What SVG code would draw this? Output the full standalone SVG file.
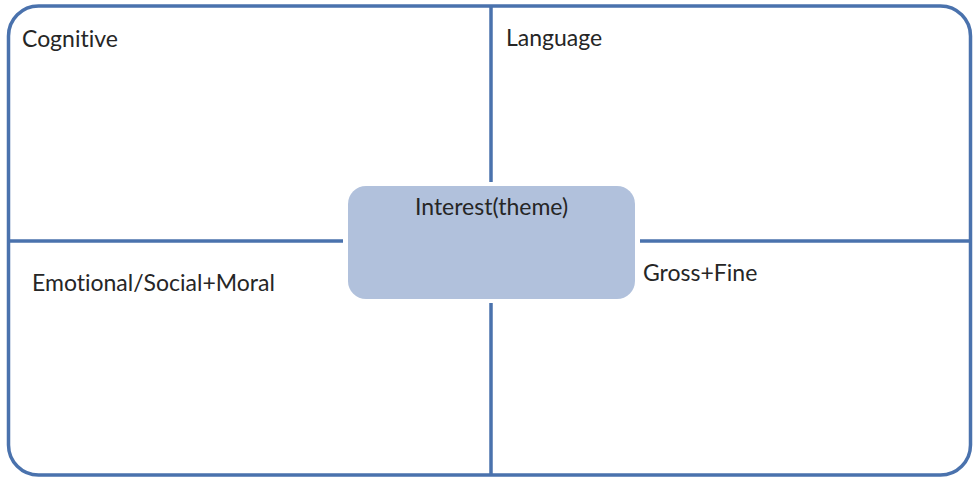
<svg xmlns="http://www.w3.org/2000/svg" width="974" height="478" viewBox="0 0 974 478">
<style>
.ln{stroke:#4a72ad;stroke-width:3.5;fill:none}
.t{font-family:Lato,"Open Sans","Liberation Sans",sans-serif;font-size:23px;fill:#262626;font-variant-ligatures:none}
</style>
<rect x="0" y="0" width="974" height="478" fill="#ffffff"/>
<g id="frame">
<rect class="ln" x="8.5" y="6" width="962" height="469" rx="30" ry="30" fill="#ffffff"/>
</g>
<g id="connectors">
<line class="ln" x1="491" y1="6" x2="491" y2="182"/>
<line class="ln" x1="491" y1="303" x2="491" y2="475"/>
<line class="ln" x1="8.5" y1="241" x2="343" y2="241"/>
<line class="ln" x1="640" y1="241" x2="970.5" y2="241"/>
</g>
<g id="cognitive"><text class="t" x="22" y="47">Cognitive</text></g>
<g id="language"><text class="t" x="506" y="46">Language</text></g>
<g id="emotional"><text class="t" x="32" y="291">Emotional/Social+Moral</text></g>
<g id="gross"><text class="t" x="643" y="281">Gross+Fine</text></g>
<g id="interest">
<rect x="348" y="186" width="287" height="113" rx="18" ry="18" fill="#b1c1dc"/>
<text class="t" x="491.5" y="215" text-anchor="middle" fill="#2b2f38" font-size="23.5">Interest(theme)</text>
</g>
</svg>
